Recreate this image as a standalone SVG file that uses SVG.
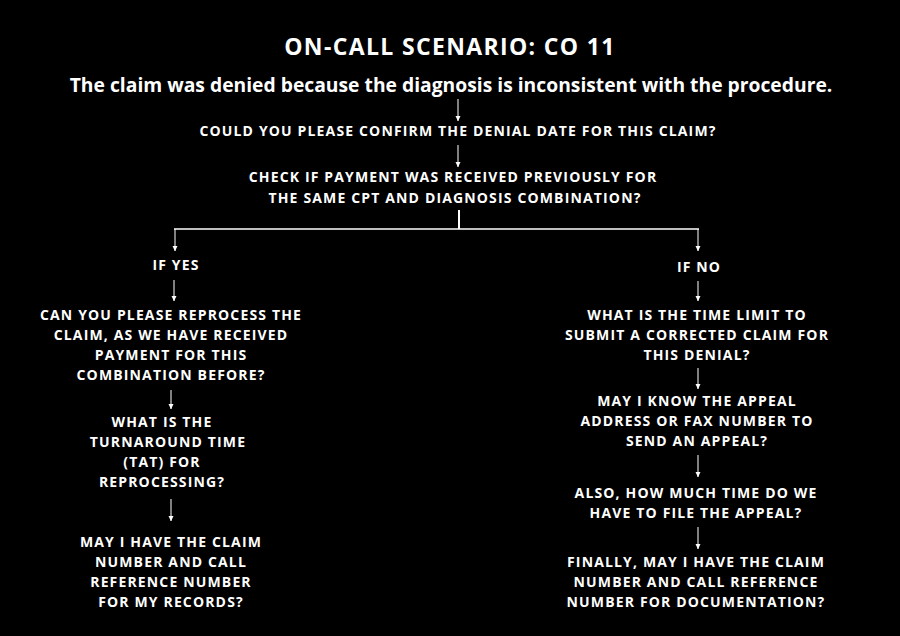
<svg xmlns="http://www.w3.org/2000/svg" width="900" height="636" viewBox="0 0 900 636">
<defs>
<marker id="ah" viewBox="0 0 6 6" refX="5.5" refY="3" markerWidth="6" markerHeight="6" markerUnits="userSpaceOnUse" orient="auto">
<path d="M0.5,0.5 L5.8,3 L0.5,5.5 Z" fill="#ffffff"/>
</marker>
</defs>
<style>
text{font-family:"Open Sans","Liberation Sans",sans-serif;font-weight:bold;fill:#ffffff;text-anchor:middle}
.t{font-size:23px;letter-spacing:1.35px}
.s{font-size:19.3px}
.q{font-size:14px;letter-spacing:1.15px}
.a{stroke:#ffffff;stroke-width:1;fill:none;marker-end:url(#ah)}
.l{stroke:#ffffff;stroke-width:2;fill:none}
</style>
<rect width="900" height="636" fill="#000000"/>
<g id="title"><text class="t" x="450" y="55">ON-CALL SCENARIO: CO 11</text></g>
<g id="subtitle"><text class="s" x="451" y="92">The claim was denied because the diagnosis is inconsistent with the procedure.</text></g>
<g id="n1"><text class="q" x="458" y="136">COULD YOU PLEASE CONFIRM THE DENIAL DATE FOR THIS CLAIM?</text></g>
<g id="n2"><text class="q" x="453" y="182">CHECK IF PAYMENT WAS RECEIVED PREVIOUSLY FOR</text><text class="q" x="455" y="203">THE SAME CPT AND DIAGNOSIS COMBINATION?</text></g>
<g id="yes"><text class="q" x="176" y="270">IF YES</text></g>
<g id="no"><text class="q" x="699" y="272">IF NO</text></g>
<g id="y1"><text class="q" x="171" y="320">CAN YOU PLEASE REPROCESS THE</text><text class="q" x="171" y="340">CLAIM, AS WE HAVE RECEIVED</text><text class="q" x="171" y="360">PAYMENT FOR THIS</text><text class="q" x="171" y="380">COMBINATION BEFORE?</text></g>
<g id="y2"><text class="q" x="162" y="427">WHAT IS THE</text><text class="q" x="168" y="447">TURNAROUND TIME</text><text class="q" x="162" y="467">(TAT) FOR</text><text class="q" x="162" y="487">REPROCESSING?</text></g>
<g id="y3"><text class="q" x="171" y="547">MAY I HAVE THE CLAIM</text><text class="q" x="171" y="567">NUMBER AND CALL</text><text class="q" x="171" y="587">REFERENCE NUMBER</text><text class="q" x="171" y="607">FOR MY RECORDS?</text></g>
<g id="n3"><text class="q" x="697" y="320">WHAT IS THE TIME LIMIT TO</text><text class="q" x="697" y="340">SUBMIT A CORRECTED CLAIM FOR</text><text class="q" x="697" y="360">THIS DENIAL?</text></g>
<g id="n4"><text class="q" x="697" y="406">MAY I KNOW THE APPEAL</text><text class="q" x="697" y="426">ADDRESS OR FAX NUMBER TO</text><text class="q" x="697" y="446">SEND AN APPEAL?</text></g>
<g id="n5"><text class="q" x="696" y="498">ALSO, HOW MUCH TIME DO WE</text><text class="q" x="696" y="518">HAVE TO FILE THE APPEAL?</text></g>
<g id="n6"><text class="q" x="696" y="567">FINALLY, MAY I HAVE THE CLAIM</text><text class="q" x="696" y="587">NUMBER AND CALL REFERENCE</text><text class="q" x="696" y="607">NUMBER FOR DOCUMENTATION?</text></g>
<g id="connectors">
<path class="a" d="M458,99 V121"/>
<path class="a" d="M458,145 V167"/>
<path class="l" d="M459,210 V229"/>
<path class="l" d="M174,229 H699" style="stroke-width:1.5"/>
<path class="a" d="M175,229 V251"/>
<path class="a" d="M698,229 V251"/>
<path class="a" d="M174,280 V301"/>
<path class="a" d="M171,390 V409"/>
<path class="a" d="M171,499 V521"/>
<path class="a" d="M698,281 V301"/>
<path class="a" d="M698,368 V389"/>
<path class="a" d="M698,455 V477"/>
<path class="a" d="M698,527 V549"/>
</g>
</svg>
